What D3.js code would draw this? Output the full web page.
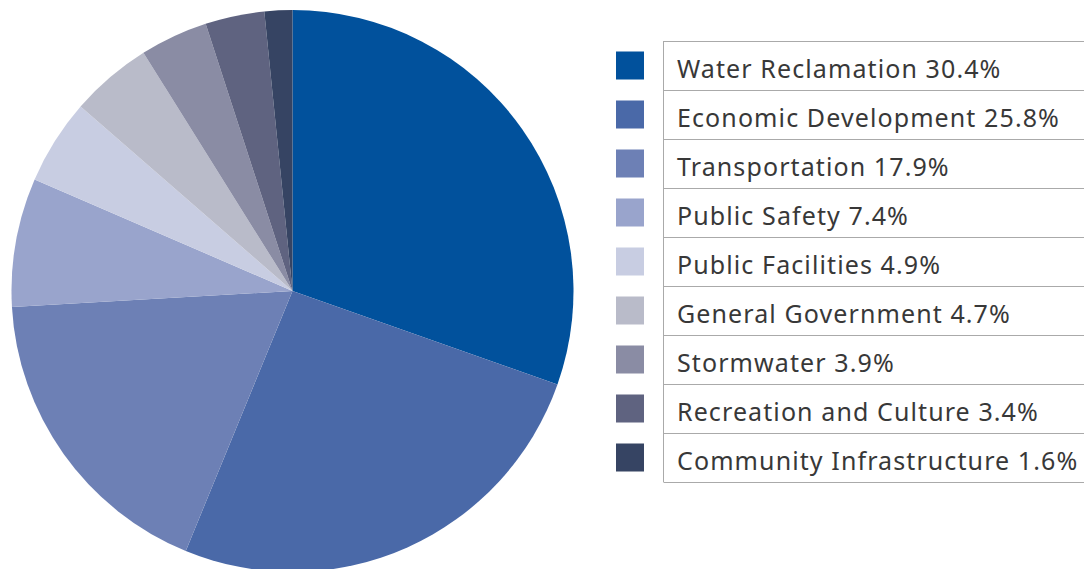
<!DOCTYPE html>
<html><head><meta charset="utf-8">
<script src="https://cdn.jsdelivr.net/npm/d3@7"></script>
<style>html,body{margin:0;padding:0;background:#fff;}</style>
</head><body>
<svg id="chart" width="1084" height="569"></svg>
<script>
const categories = ["Water Reclamation","Economic Development","Transportation","Public Safety","Public Facilities","General Government","Stormwater","Recreation and Culture","Community Infrastructure"];
const values = [30.4,25.8,17.9,7.4,4.9,4.7,3.9,3.4,1.6];
const colors = ["#01519c","#4a69a8","#6d80b5","#99a4cc","#c8cde2","#b9bbc9","#8a8ca4","#5f6380","#364463"];

const svg = d3.select("#chart");
const cx = 292.5, cy = 291, r = 281;
const data = categories.map((c,i)=>({name:c, value:values[i], color:colors[i]}));
const pie = d3.pie().value(d=>d.value).sort(null);
const arc = d3.arc().innerRadius(0).outerRadius(r);
svg.append("g").attr("transform",`translate(${cx},${cy})`)
  .selectAll("path").data(pie(data)).join("path")
  .attr("d",arc).attr("fill",d=>d.data.color);

const top0 = 41, rowH = 49, tableX = 663.5;
const y = d3.scaleBand().domain(categories).range([top0, top0+rowH*categories.length]);
const lg = svg.append("g");
lg.selectAll("rect.sw").data(data).join("rect").attr("class","sw")
  .attr("x",616).attr("y",d=>y(d.name)+rowH/2-14).attr("width",28).attr("height",28)
  .attr("fill",d=>d.color);
lg.append("line").attr("x1",tableX).attr("x2",tableX).attr("y1",top0).attr("y2",top0+rowH*categories.length)
  .attr("stroke","#aaa").attr("stroke-width",1);
lg.selectAll("line.h").data(d3.range(categories.length+1)).join("line").attr("class","h")
  .attr("x1",tableX).attr("x2",1084).attr("y1",i=>top0+i*rowH+0.5).attr("y2",i=>top0+i*rowH+0.5)
  .attr("stroke","#aaa").attr("stroke-width",1);
lg.selectAll("text").data(data).join("text")
  .attr("x",677).attr("y",d=>y(d.name)+37)
  .attr("font-family","'Noto Sans', sans-serif").attr("font-size",25).attr("letter-spacing",1.1).attr("fill","#383838")
  .text(d=>`${d.name} ${d.value}%`);
</script>
</body></html>
